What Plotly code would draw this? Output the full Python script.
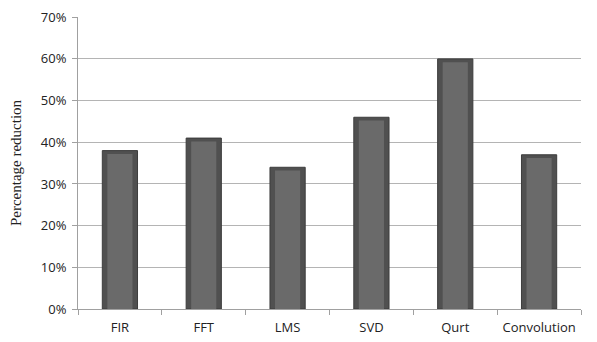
import plotly.graph_objects as go

categories = ["FIR", "FFT", "LMS", "SVD", "Qurt", "Convolution"]
values = [0.38, 0.41, 0.34, 0.46, 0.60, 0.37]
y_ticks = [0, 0.1, 0.2, 0.3, 0.4, 0.5, 0.6, 0.7]
y_tick_labels = ["0%", "10%", "20%", "30%", "40%", "50%", "60%", "70%"]

fig = go.Figure()
fig.add_trace(go.Bar(
    x=categories, y=values, width=0.42,
    marker=dict(color="#505050", line=dict(color="#3c3c3c", width=1)),
    hoverinfo="skip",
))
fig.add_trace(go.Bar(
    x=categories, y=[v - 0.008 for v in values], width=0.30,
    marker=dict(color="#6a6a6a", line=dict(width=0)),
    hoverinfo="skip",
))

fig.update_layout(
    width=589, height=334,
    margin=dict(l=70, r=16, t=9, b=33),
    paper_bgcolor="white", plot_bgcolor="white",
    showlegend=False, barmode="overlay",
    font=dict(family="Open Sans, Liberation Sans, sans-serif", size=13, color="#222222"),
    xaxis=dict(
        automargin=False,
        showline=True, linecolor="#a0a0a0", linewidth=1,
        ticks="outside", tickson="boundaries", ticklen=5, tickcolor="#a0a0a0",
        showgrid=False, tickfont=dict(size=13), ticklabelstandoff=6,
    ),
    yaxis=dict(
        automargin=False,
        range=[0, 0.7005], tickvals=y_ticks, ticktext=y_tick_labels,
        showline=True, linecolor="#a0a0a0", linewidth=1,
        ticks="outside", ticklen=5, tickcolor="#a0a0a0",
        showgrid=True, gridcolor="#b4b4b4", gridwidth=1,
        zeroline=False, tickfont=dict(size=13), ticklabelstandoff=3,
        ticklabeloverflow="allow",
        title=dict(text="Percentage reduction", standoff=16,
                   font=dict(family="Liberation Serif, Times New Roman, serif", size=15)),
    ),
)

fig.write_html("out.html")
